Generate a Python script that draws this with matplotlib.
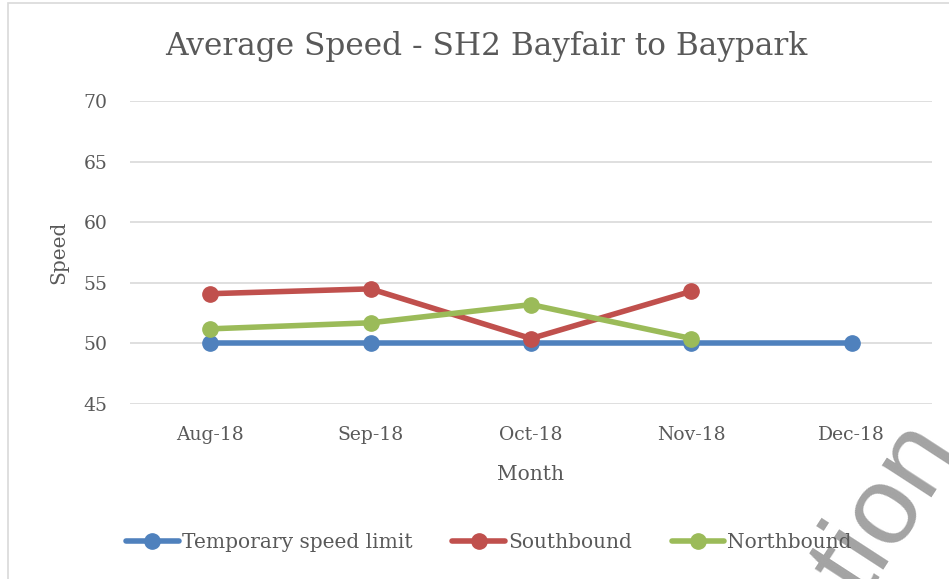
import matplotlib.pyplot as plt
from matplotlib.patches import Rectangle

months = ["Aug-18", "Sep-18", "Oct-18", "Nov-18", "Dec-18"]
speed_limit = [50, 50, 50, 50, 50]
southbound = [54.1, 54.5, 50.4, 54.3]
northbound = [51.2, 51.7, 53.2, 50.4]

W, H = 949, 579
plt.rcParams["font.family"] = ["DejaVu Serif"]
txt = "#595959"

fig = plt.figure(figsize=(W / 100, H / 100), dpi=100)
ax = fig.add_axes([130 / W, 1 - 404 / H, (932 - 130) / W, (404 - 101) / H])

# chart border (cropped on right / bottom)
fig.patches.append(Rectangle((8 / W, -0.05), 1.1, 1 - 3 / H + 0.05,
                             transform=fig.transFigure, fill=False,
                             edgecolor="#d9d9d9", lw=1.2))

x = list(range(len(months)))
kw = dict(lw=4, marker="o", ms=11, solid_capstyle="round")
ax.plot(x, speed_limit, color="#4F81BD", label="Temporary speed limit", **kw)
ax.plot(x[:len(southbound)], southbound, color="#C0504D", label="Southbound", **kw)
ax.plot(x[:len(northbound)], northbound, color="#9BBB59", label="Northbound", **kw)

ax.set_xlim(-0.5, len(months) - 0.5)
ax.set_ylim(45, 70)
ax.set_yticks(range(45, 71, 5))
ax.set_xticks(x)
ax.set_xticklabels(months)
ax.grid(axis="y", color="#d9d9d9", lw=1.2)
ax.set_axisbelow(True)
for s in ax.spines.values():
    s.set_visible(False)
ax.tick_params(length=0, labelsize=13.5, labelcolor=txt)
ax.tick_params(axis="y", pad=16)
ax.tick_params(axis="x", pad=16)

ax.set_xlabel("Month", fontsize=14.5, color=txt, labelpad=15)
ax.set_ylabel("Speed", fontsize=14.5, color=txt, labelpad=11)
fig.text(486 / W, 1 - 47 / H, "Average Speed - SH2 Bayfair to Baypark",
         ha="center", va="center", fontsize=22.5, color=txt)

leg = fig.legend(loc="center", bbox_to_anchor=(489 / W, 1 - 543 / H), ncol=3,
                 frameon=False, fontsize=14.5, handlelength=2.6,
                 columnspacing=2.0, handletextpad=0.15)
for t in leg.get_texts():
    t.set_color(txt)

# watermark fragment
fig.text(870 / W, 1 - 533 / H, "ation", rotation=57, ha="center", va="center",
         fontsize=80, family="Liberation Sans", color="#8c8c8c", alpha=0.8)

fig.savefig("out.png", dpi=100)
